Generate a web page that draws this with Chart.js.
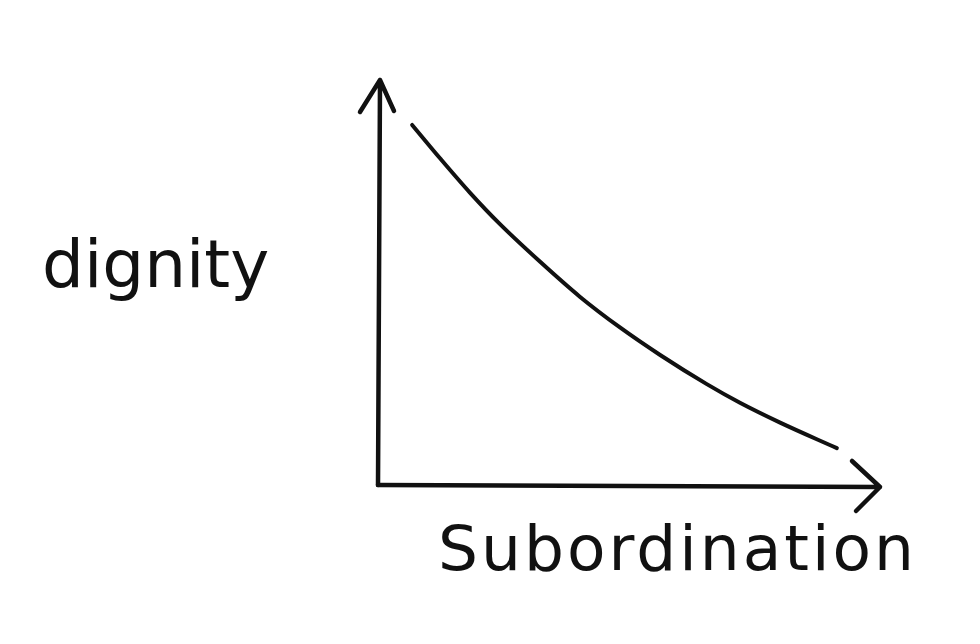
<!DOCTYPE html>
<html>
<head>
<meta charset="utf-8">
<title>dignity vs subordination</title>
<script src="https://cdn.jsdelivr.net/npm/chart.js@4.4.0/dist/chart.umd.min.js"></script>
<style>
  html, body { margin: 0; padding: 0; background: #fff; }
  canvas { display: block; }
</style>
</head>
<body>
<canvas id="chart" width="980" height="644"></canvas>
<script>
// ========================== Data ==========================
const subordination = [6.8, 12.4, 18.3, 24.3, 32.3, 40.2, 48.2, 56.2, 65.5, 72.1, 80.1, 91.4];
const dignity = [88.9, 80.6, 72.2, 64.4, 55.1, 46.5, 38.9, 32.1, 24.9, 20.3, 15.4, 9.1];
const xTitle = 'Subordination';
const yTitle = 'dignity';

const INK = '#111';

// draws the hand-drawn style axes with arrowheads plus the two labels
const sketchAxes = {
  id: 'sketchAxes',
  afterDatasetsDraw(chart) {
    const { ctx, scales: { x, y } } = chart;
    const x0 = x.getPixelForValue(0);
    const y0 = y.getPixelForValue(0);
    const xEnd = x.getPixelForValue(x.max);
    const yEnd = y.getPixelForValue(y.max);

    ctx.save();
    ctx.strokeStyle = INK;
    ctx.lineWidth = 4.5;
    ctx.lineCap = 'round';
    ctx.lineJoin = 'round';

    // y axis + arrow
    ctx.beginPath();
    ctx.moveTo(x0, y0);
    ctx.lineTo(x0 + 2, yEnd);
    ctx.moveTo(x0 - 18, yEnd + 32);
    ctx.lineTo(x0 + 2, yEnd);
    ctx.lineTo(x0 + 16, yEnd + 31);
    ctx.stroke();

    // x axis + arrow
    ctx.beginPath();
    ctx.moveTo(x0, y0);
    ctx.lineTo(xEnd, y0 + 2);
    ctx.moveTo(xEnd - 28, y0 - 24);
    ctx.lineTo(xEnd, y0 + 2);
    ctx.lineTo(xEnd - 24, y0 + 26);
    ctx.stroke();

    ctx.fillStyle = INK;
    ctx.textBaseline = 'alphabetic';
    ctx.textAlign = 'left';
    ctx.font = '66px "DejaVu Sans"';
    ctx.letterSpacing = '0px';
    ctx.fillText(yTitle, 42, 287);
    ctx.font = '63px "DejaVu Sans"';
    ctx.letterSpacing = '3px';
    ctx.fillText(xTitle, 438, 570);
    ctx.restore();
  }
};

new Chart(document.getElementById('chart'), {
  type: 'line',
  data: {
    datasets: [{
      data: subordination.map((v, i) => ({ x: v, y: dignity[i] })),
      borderColor: INK,
      borderWidth: 4,
      borderCapStyle: 'round',
      pointRadius: 0,
      fill: false,
      cubicInterpolationMode: 'monotone'
    }]
  },
  options: {
    responsive: false,
    animation: false,
    layout: { padding: { left: 378, right: 100, top: 80, bottom: 159 } },
    scales: {
      x: { type: 'linear', min: 0, max: 100, display: false },
      y: { type: 'linear', min: 0, max: 100, display: false }
    },
    plugins: {
      legend: { display: false },
      tooltip: { enabled: false }
    }
  },
  plugins: [sketchAxes]
});
</script>
</body>
</html>
